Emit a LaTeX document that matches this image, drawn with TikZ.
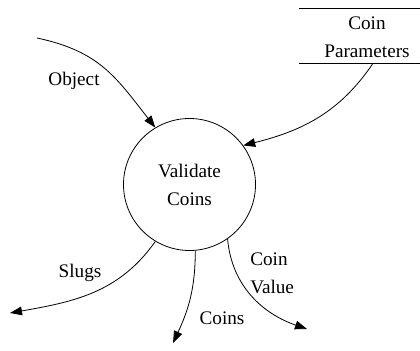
\documentclass[tikz,border=0pt]{standalone}
\usepackage{fontspec}
\setmainfont{Liberation Serif}
\usetikzlibrary{arrows.meta}
\tikzset{
  flow/.style={-{Triangle[length=9pt,width=6.5pt]},line width=0.6pt},
  process/.style={circle,draw,line width=0.6pt,minimum size=99pt,inner sep=0pt,align=center},
  label/.style={inner sep=0pt,align=left},
}
\begin{document}
\begin{tikzpicture}[x=0.75pt,y=0.75pt,every node/.style={font=\rmfamily\fontsize{14.4}{21}\selectfont}]
\useasboundingbox (0,0) rectangle (420,350);

% Draw process and store
\node[process] (validate) at (189.5,165.5) {Validate\\Coins};
\node[align=center,inner sep=0pt] (store) at (367,313) {Coin\\Parameters};
\draw[line width=0.6pt] (299,341.7) -- (420,341.7);
\draw[line width=0.6pt] (299,286.7) -- (420,286.7);

% Draw free ends
\coordinate (objsrc) at (37,312);
\coordinate (storeout) at (373,286.7);
\coordinate (slugsink) at (10,37);
\coordinate (coinsink) at (173,7);
\coordinate (valuesink) at (307,21);

% Draw flows
\draw[flow] (objsrc) to[out=-12,in=128,looseness=1.1] (validate.121);
\draw[flow] (storeout) to[out=-124,in=14] (validate.36);
\draw[flow] (validate.239) to[out=235,in=10] (slugsink);
\draw[flow] (validate.275) to[out=-90,in=65] (coinsink);
\draw[flow] (validate.305) to[out=-85,in=161] (valuesink);

% Label flows
\node[label] (lobject) at (74,269) {Object};
\node[label] (lslugs) at (80,77) {Slugs};
\node[label] (lcoins) at (222,32) {Coins};
\node[label,anchor=west] (lvalue) at (250,77) {Coin\\Value};
\end{tikzpicture}
\end{document}
